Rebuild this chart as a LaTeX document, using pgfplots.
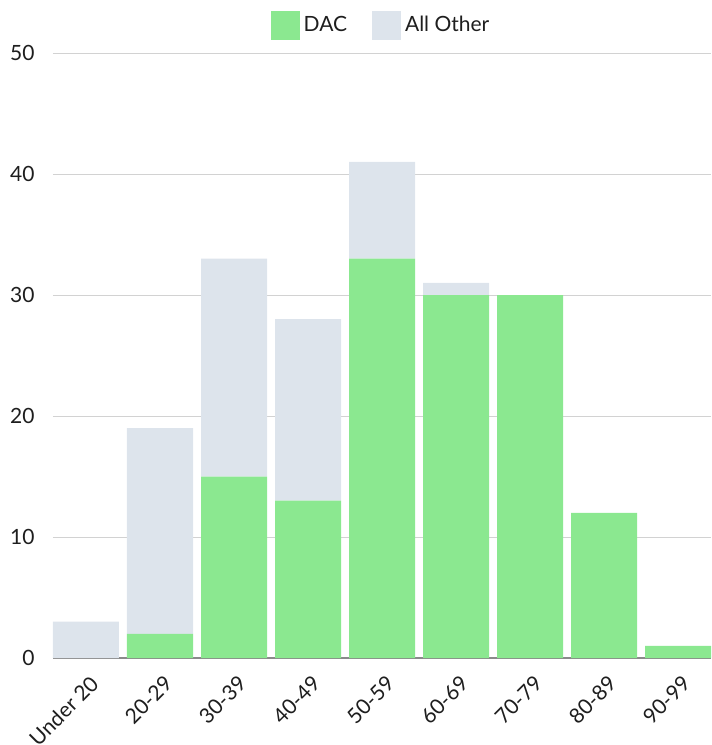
\documentclass[border=0pt]{standalone}
\usepackage{fontspec}
\setmainfont{Lato}
\usepackage{pgfplots}
\pgfplotsset{compat=1.18}
\definecolor{dac}{HTML}{8BE890}
\definecolor{oth}{HTML}{DDE4EC}
\definecolor{gridc}{HTML}{D2D2D2}
\definecolor{basec}{HTML}{8A8A8A}
\definecolor{txt}{HTML}{1E1E1E}
\begin{document}
\begin{tikzpicture}
\begin{axis}[
  name=ax,
  scale only axis,
  width=329pt, height=302.5pt,
  xmin=-0.4459, xmax=8.4459,
  ymin=0, ymax=50,
  ybar stacked,
  bar width=0.8919,
  xtick={0,...,8},
  xticklabels={Under 20,20-29,30-39,40-49,50-59,60-69,70-79,80-89,90-99},
  ytick={0,10,...,50},
  ymajorgrids,
  grid style={gridc, line width=0.5pt},
  extra y ticks={0},
  extra y tick labels={},
  extra y tick style={grid style={basec, line width=0.6pt}},
  axis line style={draw=none},
  major tick length=0pt,
  /pgf/number format/assume math mode=true,
  tick label style={font=\fontsize{10.5}{12}\selectfont, text=txt},
  yticklabel style={inner sep=0pt, xshift=-9pt},
  xticklabel style={xshift=1.5pt, yshift=-8pt, rotate=45, anchor=north east, inner sep=0pt},
  legend style={at={(0.5,1)}, anchor=south, yshift=4.5pt, draw=none, fill=none,
    font=\fontsize{10.5}{12}\selectfont, text=txt,
    /tikz/every even column/.append style={column sep=10.5pt}},
  legend columns=-1,
  legend image code/.code={\fill[#1] (0pt,-7.25pt) rectangle (14.5pt,7.25pt);},
]
\addplot[fill=dac, draw=none] coordinates {(0,0) (1,2) (2,15) (3,13) (4,33) (5,30) (6,30) (7,12) (8,1)};
\addlegendentry{DAC}
\addplot[fill=oth, draw=none] coordinates {(0,3) (1,17) (2,18) (3,15) (4,8) (5,1) (6,0) (7,0) (8,0)};
\addlegendentry{All Other}
\end{axis}
\pgfresetboundingbox
\path ([xshift=-26.5pt, yshift=-43.5pt]ax.south west) rectangle ([yshift=26.5pt]ax.north east);
\end{tikzpicture}
\end{document}
